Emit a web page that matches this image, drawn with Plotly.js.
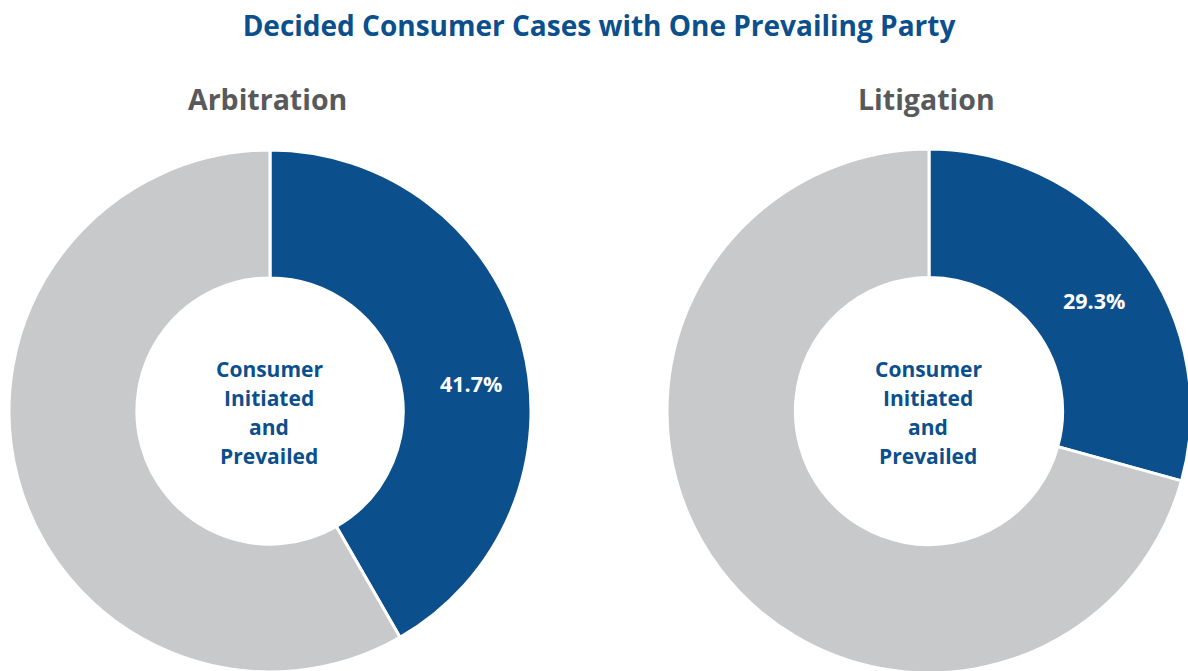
<!DOCTYPE html>
<html>
<head>
<meta charset="utf-8">
<script src="https://cdn.plot.ly/plotly-3.0.1.min.js"></script>
<style>
html,body{margin:0;padding:0;overflow:hidden;background:#fff;}
#chart{width:1194px;height:678px;}
</style>
</head>
<body>
<div id="chart"></div>
<script>
// ---- data ----
const categories = ["Consumer Initiated and Prevailed", "Other Decided Cases"];
const arbitrationValues = [41.7, 58.3];
const litigationValues = [29.3, 70.7];
const panelTitles = ["Arbitration", "Litigation"];
const chartTitle = "Decided Consumer Cases with One Prevailing Party";
const centerLines = ["Consumer", "Initiated", "and", "Prevailed"];

// ---- styling ----
const W = 1194, H = 678;
const BLUE = "#0b4f8c", GREY = "#c8c9cb", FONT = "Open Sans, Noto Sans, sans-serif";
const px = v => v / W;
const py = v => 1 - v / H;

function pie(values, cx, cy, R) {
  return {
    type: "pie",
    labels: categories,
    values: values,
    sort: false,
    direction: "clockwise",
    rotation: 0,
    hole: 0.51,
    textinfo: "none",
    hoverinfo: "label+value",
    marker: { colors: [BLUE, GREY], line: { color: "#ffffff", width: 3 } },
    domain: { x: [px(cx - R), px(cx + R)], y: [py(cy + R), py(cy - R)] },
    showlegend: false
  };
}

const centers = [[270, 411, 261], [929, 411, 262]];
const data = [
  pie(arbitrationValues, ...centers[0]),
  pie(litigationValues, ...centers[1])
];

const pctPos = [[471, 383], [1094, 300]];
const annotations = [];
panelTitles.forEach((t, i) => {
  annotations.push({
    text: "<b>" + t + "</b>", xref: "paper", yref: "paper",
    x: px(i === 0 ? 267 : 926), y: py(99), xanchor: "center", yanchor: "middle",
    showarrow: false, font: { family: FONT, size: 28.5, color: "#58595b" }
  });
  centerLines.forEach((line, j) => {
    annotations.push({
      text: "<b>" + line + "</b>", xref: "paper", yref: "paper",
      x: px(centers[i][0] - 1), y: py(369 + 29 * j), xanchor: "center", yanchor: "middle",
      showarrow: false, font: { family: FONT, size: 21, color: BLUE }
    });
  });
  const v = (i === 0 ? arbitrationValues : litigationValues)[0];
  annotations.push({
    text: "<b>" + v.toFixed(1) + "%</b>", xref: "paper", yref: "paper",
    x: px(pctPos[i][0]), y: py(pctPos[i][1]), xanchor: "center", yanchor: "middle",
    showarrow: false, font: { family: FONT, size: 21.5, color: "#ffffff" }
  });
});

const layout = {
  width: W, height: H,
  margin: { l: 0, r: 0, t: 0, b: 0 },
  paper_bgcolor: "#ffffff",
  title: {
    text: "<b>" + chartTitle + "</b>",
    x: px(599), xanchor: "center",
    y: 1 - 26 / H, yanchor: "middle",
    font: { family: FONT, size: 28, color: BLUE }
  },
  annotations: annotations
};

Plotly.newPlot("chart", data, layout, { displayModeBar: false });
</script>
</body>
</html>
